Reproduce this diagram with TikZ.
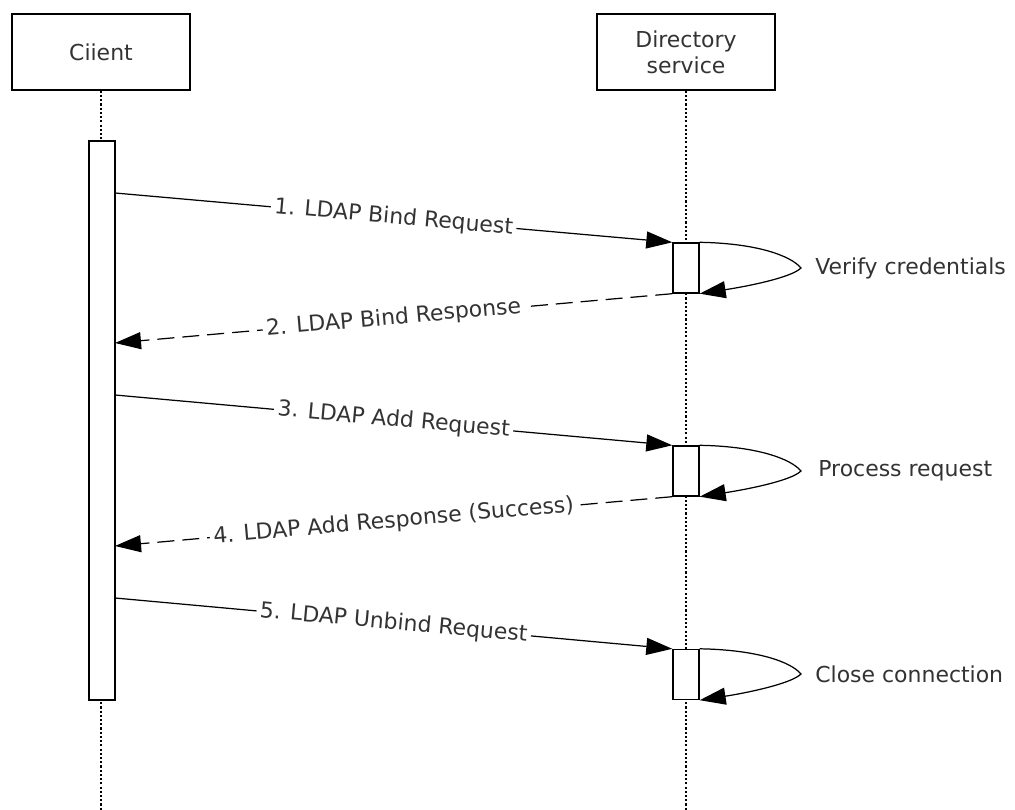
\documentclass[tikz,border=0pt]{standalone}
\usepackage{fontspec}
\setmainfont{DejaVu Sans}
\usetikzlibrary{arrows.meta, positioning, calc}

\begin{document}
\begin{tikzpicture}[x=0.02cm, y=-0.02cm,
    font=\fontsize{12.5}{15}\selectfont,
    actor/.style={draw, line width=0.9pt, minimum width=3.56cm, minimum height=1.52cm, align=center, text=black!80},
    lifeline/.style={line width=0.8pt, dash pattern=on 1.2pt off 1.2pt},
    actbar/.style={draw, fill=white, line width=0.8pt, minimum width=0.52cm, inner sep=0pt},
    msg/.style={-{Triangle[length=0.52cm, width=0.34cm]}, line width=0.7pt},
    reply/.style={msg, dash pattern=on 0.34cm off 0.16cm},
    lbl/.style={fill=white, sloped, inner sep=2pt, text=black!80},
    note/.style={text=black!80, inner sep=0pt}
]
    \useasboundingbox (0,0) rectangle (1015,810);

    % participants
    \node[actor] (client) at (101,52) {Ciient};
    \node[actor] (dirsvc) at (686,52) {Directory\\service};

    % lifelines
    \coordinate (clientend) at (101,810);
    \coordinate (dirsvcend) at (686,810);
    \draw[lifeline] (client) -- (clientend);
    \draw[lifeline] (dirsvc) -- (dirsvcend);

    % activation bars
    \node[actbar, minimum height=11.18cm] (cbar) at (102,420.5) {};
    \node[actbar, minimum height=1cm] (bar1) at (686,268) {};
    \node[actbar, minimum height=1cm] (bar2) at (686,471) {};
    \node[actbar, minimum height=1cm] (bar3) at (686,674.5) {};

    % message ends on the client bar
    \coordinate (m1) at (115,193);
    \coordinate (m2) at (115,343);
    \coordinate (m3) at (115,395);
    \coordinate (m4) at (115,546);
    \coordinate (m5) at (115,598);

    \draw[msg] (m1) -- node[lbl] {1. LDAP Bind Request} (bar1.north west);
    \draw[reply] (bar1.south west) -- node[lbl] {2. LDAP Bind Response} (m2);
    \draw[msg] (m3) -- node[lbl] {3. LDAP Add Request} (bar2.north west);
    \draw[reply] (bar2.south west) -- node[lbl] {4. LDAP Add Response (Success)} (m4);
    \draw[msg] (m5) -- node[lbl] {5. LDAP Unbind Request} (bar3.north west);

    % self loops
    \coordinate (loop1) at (801,268);
    \coordinate (loop2) at (801,471);
    \coordinate (loop3) at (801,674);
    \draw[msg] (bar1.north east) .. controls +(58,1) and +(-10,-12) .. (loop1)
        .. controls +(-10,10) and +(45,-7) .. (bar1.south east);
    \draw[msg] (bar2.north east) .. controls +(58,1) and +(-10,-12) .. (loop2)
        .. controls +(-10,10) and +(45,-7) .. (bar2.south east);
    \draw[msg] (bar3.north east) .. controls +(58,1) and +(-10,-12) .. (loop3)
        .. controls +(-10,10) and +(45,-7) .. (bar3.south east);

    \node[note, right=0.28cm of loop1] (verify) {Verify credentials};
    \node[note, right=0.34cm of loop2] (process) {Process request};
    \node[note, right=0.28cm of loop3] (close) {Close connection};
\end{tikzpicture}
\end{document}
